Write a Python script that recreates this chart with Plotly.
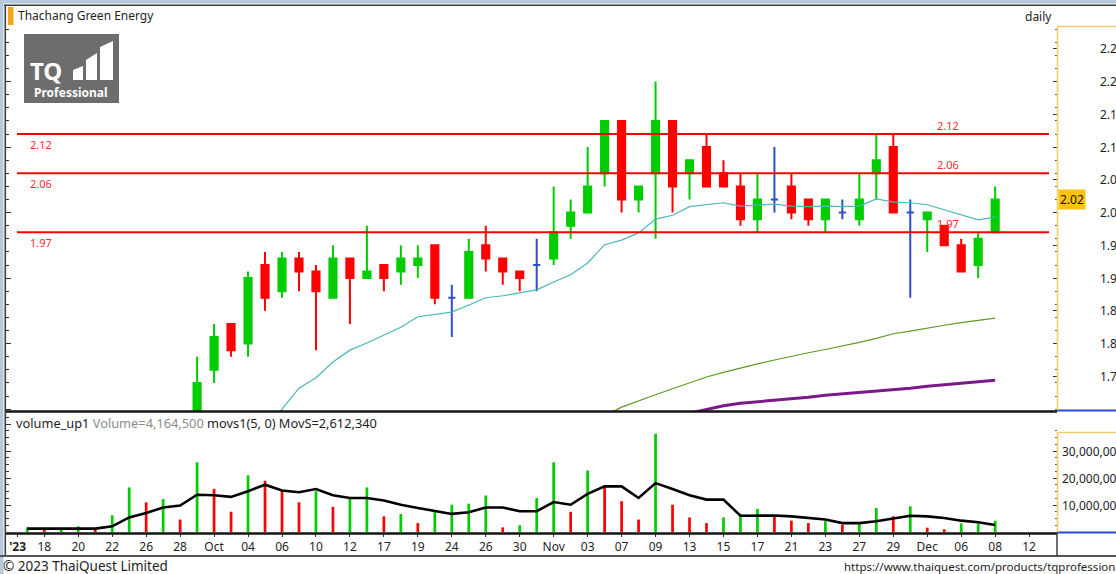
import plotly.graph_objects as go

# ---------------- data ----------------
dates = ["2023-09-15", "2023-09-18", "2023-09-19", "2023-09-20", "2023-09-21", "2023-09-22",
         "2023-09-25", "2023-09-26", "2023-09-27", "2023-09-28", "2023-09-29", "2023-10-02",
         "2023-10-03", "2023-10-04", "2023-10-05", "2023-10-06", "2023-10-09", "2023-10-10",
         "2023-10-11", "2023-10-12", "2023-10-16", "2023-10-17", "2023-10-18", "2023-10-19",
         "2023-10-20", "2023-10-24", "2023-10-25", "2023-10-26", "2023-10-27", "2023-10-30",
         "2023-10-31", "2023-11-01", "2023-11-02", "2023-11-03", "2023-11-06", "2023-11-07",
         "2023-11-08", "2023-11-09", "2023-11-10", "2023-11-13", "2023-11-14", "2023-11-15",
         "2023-11-16", "2023-11-17", "2023-11-20", "2023-11-21", "2023-11-22", "2023-11-23",
         "2023-11-24", "2023-11-27", "2023-11-28", "2023-11-29", "2023-11-30", "2023-12-01",
         "2023-12-04", "2023-12-06", "2023-12-07", "2023-12-08"]

# candles visible from 2023-09-29 on
candle_dates = dates[10:]
opens  = [1.69, 1.76, 1.83, 1.80, 1.92, 1.88, 1.93, 1.91, 1.87, 1.93, 1.90, 1.92, 1.91, 1.92,
          1.95, 1.87, 1.87, 1.95, 1.93, 1.91, 1.92, 1.93, 1.98, 2.00, 2.06, 2.14, 2.02, 2.06,
          2.14, 2.06, 2.10, 2.06, 2.04, 1.99, 2.02, 2.04, 2.02, 1.99, 2.00, 1.99, 2.06, 2.10,
          2.00, 1.99, 1.98, 1.95, 1.92, 1.97]
highs  = [1.78, 1.83, 1.83, 1.91, 1.94, 1.94, 1.94, 1.92, 1.95, 1.93, 1.98, 1.92, 1.95, 1.95,
          1.95, 1.89, 1.96, 1.98, 1.93, 1.91, 1.96, 2.04, 2.02, 2.10, 2.14, 2.14, 2.04, 2.20,
          2.14, 2.08, 2.12, 2.08, 2.06, 2.06, 2.10, 2.06, 2.02, 2.02, 2.02, 2.06, 2.12, 2.12,
          2.02, 2.00, 1.98, 1.96, 1.97, 2.04]
lows   = [1.68, 1.74, 1.78, 1.78, 1.85, 1.87, 1.88, 1.79, 1.87, 1.83, 1.90, 1.88, 1.89, 1.90,
          1.86, 1.81, 1.87, 1.91, 1.89, 1.88, 1.88, 1.92, 1.96, 2.00, 2.04, 2.00, 2.00, 1.96,
          2.00, 2.02, 2.04, 2.04, 1.98, 1.97, 2.00, 1.99, 1.98, 1.97, 1.99, 1.98, 2.02, 2.00,
          1.87, 1.94, 1.95, 1.91, 1.90, 1.97]
closes = [1.74, 1.81, 1.79, 1.90, 1.87, 1.93, 1.91, 1.88, 1.93, 1.90, 1.91, 1.90, 1.93, 1.93,
          1.87, 1.87, 1.94, 1.93, 1.91, 1.90, 1.92, 1.97, 2.00, 2.04, 2.14, 2.02, 2.04, 2.14,
          2.04, 2.08, 2.04, 2.04, 1.99, 2.02, 2.02, 2.00, 1.99, 2.02, 2.00, 2.02, 2.08, 2.00,
          2.00, 2.00, 1.95, 1.91, 1.96, 2.02]

# moving averages on price
ma_fast_dates = dates[14:]
ma_fast = [1.670, 1.700, 1.732, 1.748, 1.772, 1.790, 1.801, 1.813, 1.825, 1.841, 1.844,
           1.848, 1.859, 1.870, 1.873, 1.877, 1.882, 1.894, 1.905, 1.923, 1.951, 1.958,
           1.969, 1.990, 1.996, 2.009, 2.012, 2.015, 2.010, 2.012, 2.013, 2.010, 2.009,
           2.010, 2.009, 2.010, 2.021, 2.016, 2.015, 2.012, 2.004, 1.996, 1.989, 1.993]
ma_mid_dates = dates[33:]
ma_mid = [1.680, 1.690, 1.703, 1.713, 1.722, 1.731, 1.740, 1.749, 1.756, 1.763, 1.769, 1.775,
          1.781, 1.786, 1.791, 1.796, 1.802, 1.808, 1.815, 1.819, 1.824, 1.828, 1.832, 1.836,
          1.839]
ma_slow_dates = dates[38:]
ma_slow = [1.688, 1.694, 1.700, 1.705, 1.709, 1.711, 1.713, 1.715, 1.718, 1.721, 1.723, 1.725,
           1.727, 1.730, 1.732, 1.735, 1.737, 1.739, 1.742, 1.744]

levels = [2.12, 2.06, 1.97]

volume = [1.70, 0.85, 0.80, 2.10, 0.80, 6.20, 16.5, 11.0, 12.2, 4.60, 25.8, 16.0, 7.50, 21.0,
          19.0, 15.3, 11.0, 15.1, 9.30, 12.6, 16.5, 5.80, 6.70, 3.30, 7.70, 10.1, 10.5, 13.5,
          1.70, 2.50, 12.6, 25.8, 7.50, 22.8, 17.3, 11.4, 4.60, 36.4, 10.1, 5.40, 3.30, 5.40,
          6.70, 8.50, 5.80, 4.20, 3.30, 4.00, 2.70, 3.30, 8.90, 5.80, 9.50, 1.60, 1.00, 3.20,
          3.10, 4.1645]  # millions
volume_up = [1, 0, 1, 1, 0, 1, 1, 0, 1, 0, 1, 0, 0, 1, 0, 0, 0, 1, 0, 1, 1, 0, 1, 0, 1, 1, 1, 1,
             0, 1, 1, 1, 0, 1, 0, 0, 0, 1, 0, 0, 0, 1, 1, 1, 0, 0, 0, 1, 0, 1, 1, 0, 1, 0, 0, 1,
             1, 1]
vol_ma = [1.25, 1.25, 1.25, 1.25, 1.25, 2.10, 5.40, 7.00, 9.10, 9.80, 13.8, 13.6, 13.0, 15.1,
          17.5, 15.4, 14.7, 15.9, 13.6, 12.6, 12.6, 11.7, 10.1, 8.90, 7.90, 6.70, 7.30, 9.10,
          9.10, 7.70, 7.70, 11.1, 10.1, 14.1, 16.9, 16.9, 12.6, 18.1, 15.9, 13.6, 12.0, 12.0,
          6.00, 6.00, 6.10, 5.80, 5.20, 4.60, 3.30, 3.30, 4.00, 4.90, 6.00, 5.80, 5.20, 4.20,
          3.60, 2.61]  # millions

tick_text = ["<b>'23</b>", "18", "20", "22", "26", "28", "Oct", "04", "06", "10", "12", "17", "19",
             "24", "26", "30", "Nov", "03", "07", "09", "13", "15", "17", "21", "23", "27", "29",
             "Dec", "06", "08", "12"]
price_ticks = [1.75, 1.80, 1.85, 1.90, 1.95, 2.00, 2.05, 2.10, 2.15, 2.20, 2.25]
vol_ticks = [10e6, 20e6, 30e6]

# ---------------- geometry helpers ----------------
W, H = 1116, 574
PL, PR, PT, PB = 6, 1057, 26, 533


def xp(px):
    return (px - PL) / (PR - PL)


def yp(py):
    return (PB - py) / (PB - PT)


pos = {d: i for i, d in enumerate(dates)}
cx = [pos[d] for d in candle_dates]
tick_vals = [-0.57] + list(range(1, 60, 2))

GREEN, RED, BLUE = "#00CC00", "#FF0000", "#2E4FC8"
CYAN, OLIVE, PURPLE = "#4DB6B8", "#5E9A24", "#7A1A8A"
FONT = "Noto Sans"
TXT = "#1E1E1E"

up_i = [i for i in range(len(opens)) if closes[i] > opens[i]]
dn_i = [i for i in range(len(opens)) if closes[i] < opens[i]]
dj_i = [i for i in range(len(opens)) if closes[i] == opens[i]]


def pick(arr, idx):
    return [arr[i] for i in idx]


fig = go.Figure()
for idx, col in ((up_i, GREEN), (dn_i, RED), (dj_i, BLUE)):
    fig.add_trace(go.Candlestick(
        x=pick(cx, idx), open=pick(opens, idx), high=pick(highs, idx),
        low=pick(lows, idx), close=pick(closes, idx),
        increasing=dict(line=dict(color=col, width=2), fillcolor=col),
        decreasing=dict(line=dict(color=col, width=2), fillcolor=col),
        whiskerwidth=0, showlegend=False, hoverinfo="skip", xaxis="x", yaxis="y"))

fig.add_trace(go.Scatter(x=[pos[d] for d in ma_fast_dates], y=ma_fast, mode="lines",
                         line=dict(color=CYAN, width=1.2), showlegend=False, hoverinfo="skip"))
fig.add_trace(go.Scatter(x=[pos[d] for d in ma_mid_dates], y=ma_mid, mode="lines",
                         line=dict(color=OLIVE, width=1.2), showlegend=False, hoverinfo="skip"))
fig.add_trace(go.Scatter(x=[pos[d] for d in ma_slow_dates], y=ma_slow, mode="lines",
                         line=dict(color=PURPLE, width=3), showlegend=False, hoverinfo="skip"))

fig.add_trace(go.Bar(x=list(range(len(dates))), y=[v * 1e6 for v in volume], width=0.16,
                     marker=dict(color=[GREEN if u else RED for u in volume_up], line=dict(width=0)),
                     xaxis="x", yaxis="y2", showlegend=False, hoverinfo="skip"))
fig.add_trace(go.Scatter(x=list(range(len(dates))), y=[v * 1e6 for v in vol_ma], mode="lines",
                         line=dict(color="#000000", width=2.6), xaxis="x", yaxis="y2",
                         showlegend=False, hoverinfo="skip"))
# anchors for the left rulers
fig.add_trace(go.Scatter(x=[0], y=[2.0], yaxis="y3", mode="markers", marker=dict(opacity=0),
                         showlegend=False, hoverinfo="skip"))
fig.add_trace(go.Scatter(x=[0], y=[1e6], yaxis="y4", mode="markers", marker=dict(opacity=0),
                         showlegend=False, hoverinfo="skip"))

xmin = (PL - 27.3) / 16.98
xmax = (PR - 27.3) / 16.98
pr = [2.0 - (PB - 122 - 212.6) / 655, 2.0 + (212.6 - PT) / 655]
vr = [-(533 - 532) / 2.7e-6, (532 - 411) / 2.7e-6]
pdom = [yp(411), 1]
vdom = [0, yp(411)]

fig.update_layout(
    autosize=False,
    width=W, height=H, margin=dict(l=PL, r=W - PR, t=PT, b=H - PB),
    paper_bgcolor="white", plot_bgcolor="white", showlegend=False,
    font=dict(family=FONT, size=12, color=TXT), boxgap=0.4,
    xaxis=dict(domain=[0, 1], range=[xmin, xmax], anchor="y2", showgrid=False, zeroline=False,
               showline=False, tickmode="array", tickvals=tick_vals, ticktext=tick_text,
               ticks="outside", ticklen=3, tickcolor="#333", tickfont=dict(size=12, color=TXT),
               rangeslider=dict(visible=False), fixedrange=True),
    yaxis=dict(domain=pdom, range=pr, side="right", anchor="x", showgrid=False, zeroline=False,
               showline=False, tickmode="array", tickvals=price_ticks, showticklabels=False,
               ticks="inside", ticklen=4, tickcolor="#333",
               minor=dict(tickmode="linear", tick0=1.70, dtick=0.02, ticks="inside", ticklen=2,
                          tickcolor="#555")),
    yaxis2=dict(domain=vdom, range=vr, side="right", anchor="x", showgrid=False, zeroline=False,
                showline=False, tickmode="array", tickvals=vol_ticks, showticklabels=False,
                ticks="inside", ticklen=4, tickcolor="#333",
                minor=dict(tickmode="array", tickvals=[i * 2.5e6 for i in range(16)],
                           ticks="inside", ticklen=2, tickcolor="#555")),
    yaxis3=dict(overlaying="y", range=pr, side="left", anchor="x", showgrid=False,
                zeroline=False, showline=False, showticklabels=False, tickmode="linear",
                tick0=2.0, dtick=0.1, ticks="inside", ticklen=5, tickcolor="#333",
                minor=dict(tickmode="linear", tick0=2.0, dtick=0.02, ticks="inside", ticklen=3,
                           tickcolor="#333")),
    yaxis4=dict(overlaying="y2", range=vr, side="left", anchor="x", showgrid=False,
                zeroline=False, showline=False, showticklabels=False, tickmode="linear",
                tick0=0, dtick=10e6, ticks="inside", ticklen=5, tickcolor="#333",
                minor=dict(tickmode="linear", tick0=0, dtick=2.5e6, ticks="inside", ticklen=3,
                           tickcolor="#333")),
)

shapes = []


def pline(x0, y0, x1, y1, color, width):
    shapes.append(dict(type="line", xref="paper", yref="paper", x0=xp(x0), y0=yp(y0),
                       x1=xp(x1), y1=yp(y1), line=dict(color=color, width=width)))


def prect(x0, y0, x1, y1, color):
    shapes.append(dict(type="rect", xref="paper", yref="paper", x0=xp(x0), y0=yp(y0),
                       x1=xp(x1), y1=yp(y1), fillcolor=color, line=dict(width=0), layer="above"))


def ppath(pts, color):
    d = "M " + " L ".join("%f,%f" % (xp(a), yp(b)) for a, b in pts) + " Z"
    shapes.append(dict(type="path", xref="paper", yref="paper", path=d, fillcolor=color,
                       line=dict(width=0), layer="above"))


# window frame
prect(0, 0, 3.5, 574, "#B7C8DC")
prect(0, 0, 1116, 3.5, "#B7C8DC")
pline(4, 5.3, 1116, 5.3, "#3C3C3C", 1.6)
pline(5.3, 5, 5.3, 556, "#3C3C3C", 1.6)
# pane separators
pline(6, 411.5, 1057, 411.5, "#141414", 2.6)
pline(1057, 410.5, 1116, 410.5, "#2A4CCF", 2)
pline(6, 533.5, 1057, 533.5, "#141414", 2.6)
pline(1057, 532.5, 1116, 532.5, "#2A4CCF", 2)
pline(0, 556, 1116, 556, "#555555", 2.2)
pline(1057, 533, 1057, 556, "#333333", 1.4)
# axis frames (yellow)
pline(1057.5, 26, 1057.5, 410, "#F2CD68", 1.6)
pline(1057, 26.5, 1116, 26.5, "#F2CD68", 1.6)
pline(1057.5, 432, 1057.5, 532, "#F2CD68", 1.6)
pline(1057, 432.5, 1116, 432.5, "#F2CD68", 1.6)
# title marker
prect(8, 7, 13.5, 25, "#F7A21B")
# logo
prect(24, 34, 119, 103, "#6D6D6D")
ppath([(73, 80), (73, 70), (83, 66), (83, 80)], "white")
ppath([(86, 80), (86, 60), (97, 53), (97, 80)], "white")
ppath([(100, 80), (100, 47), (113, 41), (113, 80)], "white")

# level lines
for lv in levels:
    shapes.append(dict(type="line", xref="x", yref="y", x0=(17 - 27.3) / 16.98,
                       x1=(1049 - 27.3) / 16.98, y0=lv, y1=lv,
                       line=dict(color="#FF0000", width=2)))

fig.update_layout(shapes=shapes)

ann = []


def ptext(x, y, text, size=12, color=TXT, xanchor="left", **kw):
    ann.append(dict(xref="paper", yref="paper", x=xp(x), y=yp(y), text=text, showarrow=False,
                    xanchor=xanchor, yanchor="middle", font=dict(size=size, color=color,
                                                                 family=FONT), **kw))


ptext(16, 16, "Thachang Green Energy")
ptext(1054, 17, "daily", xanchor="right")
ptext(14, 423, "volume_up1 <span style='color:#8C8C8C'>Volume=4,164,500</span> "
               "movs1(5, 0) MovS=2,612,340", size=12.8)
ptext(1, 566, "© 2023 ThaiQuest Limited", size=13.5)
ptext(843, 566, "https://www.thaiquest.com/products/tqprofessional", size=11.5,
      width=1116 - 843, align="left", borderpad=0)
ptext(46, 70, "<b>TQ</b>", size=24, color="white", xanchor="center")
ptext(71, 92, "<b>Professional</b>", size=12, color="white", xanchor="center")

# right-axis labels (clipped at the window edge as in the source)
for v in price_ticks:
    ann.append(dict(xref="paper", yref="y", x=xp(1099), y=v, text="%.2f" % v, showarrow=False,
                    xanchor="left", yanchor="middle", width=1116 - 1099, align="left",
                    borderpad=0, font=dict(size=12, color=TXT, family=FONT)))
for v in vol_ticks:
    ann.append(dict(xref="paper", yref="y2", x=xp(1061), y=v, text="{:,}".format(int(v)),
                    showarrow=False, xanchor="left", yanchor="middle", width=1116 - 1061,
                    align="left", borderpad=0, font=dict(size=12, color=TXT, family=FONT)))

for lv in levels:
    ann.append(dict(xref="paper", yref="y", x=xp(28), y=lv, yshift=-10, text="%.2f" % lv,
                    showarrow=False, xanchor="left", yanchor="middle",
                    font=dict(size=11, color="#FF2A2A", family=FONT)))
    ann.append(dict(xref="x", yref="y", x=(948 - 27.3) / 16.98, y=lv, yshift=9,
                    text="%.2f" % lv, showarrow=False, xanchor="center", yanchor="middle",
                    font=dict(size=11, color="#FF2A2A", family=FONT)))

ann.append(dict(xref="paper", yref="y", x=xp(1058), y=closes[-1], text="%.2f" % closes[-1],
                showarrow=False, xanchor="left", yanchor="middle", bgcolor="#FFC20E",
                borderpad=1, font=dict(size=12, color="#111", family=FONT)))

fig.update_layout(annotations=ann)
fig.write_html("out.html", config={"responsive": False})
